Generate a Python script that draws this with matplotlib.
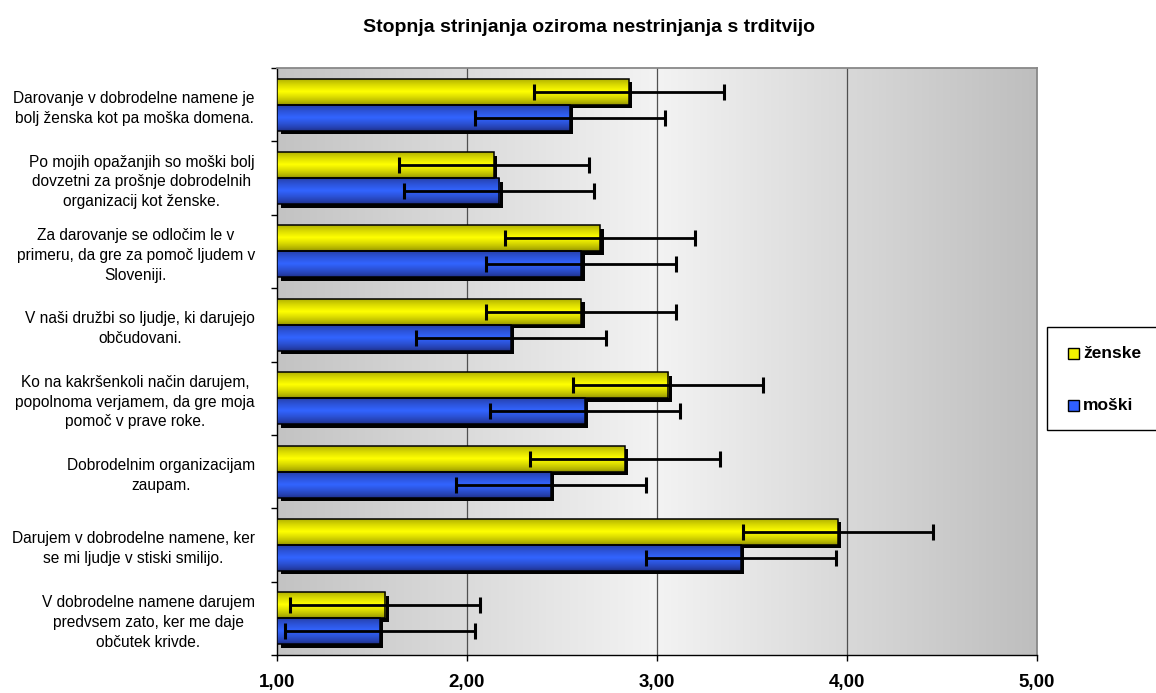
import numpy as np
import matplotlib
matplotlib.use("Agg")
import matplotlib.pyplot as plt
from matplotlib.transforms import ScaledTranslation
from matplotlib.patches import Rectangle

plt.rcParams['font.family'] = ['Liberation Sans', 'DejaVu Sans']

title = "Stopnja strinjanja oziroma nestrinjanja s trditvijo"
categories = [
    "Darovanje v dobrodelne namene je\nbolj ženska kot pa moška domena.",
    "Po mojih opažanjih so moški bolj\ndovzetni za prošnje dobrodelnih\norganizacij kot ženske.",
    "Za darovanje se odločim le v\nprimeru, da gre za pomoč ljudem v\nSloveniji.",
    "V naši družbi so ljudje, ki darujejo\nobčudovani.",
    "Ko na kakršenkoli način darujem,\npopolnoma verjamem, da gre moja\npomoč v prave roke.",
    "Dobrodelnim organizacijam\nzaupam.",
    "Darujem v dobrodelne namene, ker\nse mi ljudje v stiski smilijo.",
    "V dobrodelne namene darujem\npredvsem zato, ker me daje\nobčutek krivde.",
]
zenske = [2.85, 2.14, 2.70, 2.60, 3.06, 2.83, 3.95, 1.57]
moski = [2.54, 2.17, 2.60, 2.23, 2.62, 2.44, 3.44, 1.54]
err_zenske = [0.5] * 8
err_moski = [0.5] * 8
series_names = ["ženske", "moški"]
xticks = [1, 2, 3, 4, 5]
xticklabels = ["1,00", "2,00", "3,00", "4,00", "5,00"]

W, H = 1156, 693
fig = plt.figure(figsize=(W / 100, H / 100), dpi=100)
ax = fig.add_axes([277 / W, 1 - 655 / H, (1037 - 277) / W, (655 - 68) / H])

n = len(categories)
y = np.arange(n)
h = 0.355
ylim = (n - 0.5, -0.5)

# background gradient
xs = np.linspace(0, 1, 400)
g = np.where(xs < 0.5, 195 + (243 - 195) * xs / 0.5, 243 - (243 - 190) * (xs - 0.5) / 0.5) / 255
bg = np.dstack([g, g, g]).repeat(2, axis=0)
ax.imshow(bg, extent=[1, 5, ylim[0], ylim[1]], aspect='auto', zorder=0, interpolation='bilinear')

for xv in [2, 3, 4]:
    ax.axvline(xv, color='#505050', lw=0.9, zorder=1)

shadow_off = ScaledTranslation(3.5 / 100, -3.5 / 100, fig.dpi_scale_trans)


def grad_img(dark_top, bright, dark_bot, N=60):
    t = np.linspace(0, 1, N)
    out = np.zeros((N, 1, 3))
    for i, tv in enumerate(t):
        if tv < 0.5:
            f = (tv / 0.5) ** 0.7
            c = np.array(dark_top) + (np.array(bright) - np.array(dark_top)) * f
        else:
            f = ((1 - tv) / 0.5) ** 0.7
            c = np.array(dark_bot) + (np.array(bright) - np.array(dark_bot)) * f
        out[i, 0] = c / 255
    return out


specs = [
    (zenske, err_zenske, y - h / 2, '#f2f200', grad_img((160, 160, 0), (255, 255, 0), (140, 140, 0))),
    (moski, err_moski, y + h / 2, '#2f5fff', grad_img((35, 55, 150), (50, 100, 255), (30, 45, 130))),
]

for vals, errs, pos, col, img in specs:
    sh = ax.barh(pos, np.array(vals) - 1, left=1, height=h, color='black', zorder=2)
    for p in sh:
        p.set_transform(ax.transData + shadow_off)
        p.set_clip_on(False)

for vals, errs, pos, col, img in specs:
    bars = ax.barh(pos, np.array(vals) - 1, left=1, height=h, color=col,
                   edgecolor='none', zorder=3)
    for b, v, p in zip(bars, vals, pos):
        im = ax.imshow(img, extent=[1, v, p + h / 2, p - h / 2], aspect='auto',
                       zorder=3.1, interpolation='bilinear')
        im.set_clip_path(b)
    ax.barh(pos, np.array(vals) - 1, left=1, height=h, color='none',
            edgecolor='black', lw=1.1, zorder=3.2)
    ax.errorbar(vals, pos, xerr=errs, fmt='none', ecolor='black', elinewidth=2.0,
                capsize=6, capthick=2.2, zorder=4)

ax.set_xlim(1, 5)
ax.set_ylim(*ylim)
ax.set_aspect('auto')

ax.set_xticks(xticks)
ax.set_xticklabels(xticklabels, fontsize=13.5, fontweight='bold')
ax.tick_params(axis='x', direction='out', length=4, width=1, pad=10)

ax.set_yticks(np.arange(n + 1) - 0.5)
ax.set_yticklabels([])
ax.tick_params(axis='y', which='major', direction='out', length=4, width=1)
ax.set_yticks(y, minor=True)
ax.set_yticklabels(categories, minor=True, fontsize=11.2, multialignment='center',
                   linespacing=1.4)
ax.tick_params(axis='y', which='minor', length=0, pad=16)

for s in ['left', 'bottom']:
    ax.spines[s].set_color('black')
    ax.spines[s].set_linewidth(1)
for s in ['top', 'right']:
    ax.spines[s].set_color('#888888')
    ax.spines[s].set_linewidth(1.3)

fig.text(589 / W, 1 - 28 / H, title, ha='center', va='center', fontsize=14, fontweight='bold')

# legend
fig.patches.append(Rectangle((1047 / W, 1 - 430 / H), 120 / W, 103 / H, transform=fig.transFigure,
                             facecolor='white', edgecolor='black', lw=1, figure=fig))
for name, col, yc in [(series_names[0], '#f2f200', 353), (series_names[1], '#2f5fff', 405)]:
    fig.patches.append(Rectangle((1068 / W, 1 - (yc + 5.5) / H), 11 / W, 11 / H,
                                 transform=fig.transFigure, facecolor=col,
                                 edgecolor='black', lw=1, figure=fig))
    fig.text(1083 / W, 1 - yc / H, name, ha='left', va='center', fontsize=12.5, fontweight='bold')

fig.savefig('out.png', dpi=100)
